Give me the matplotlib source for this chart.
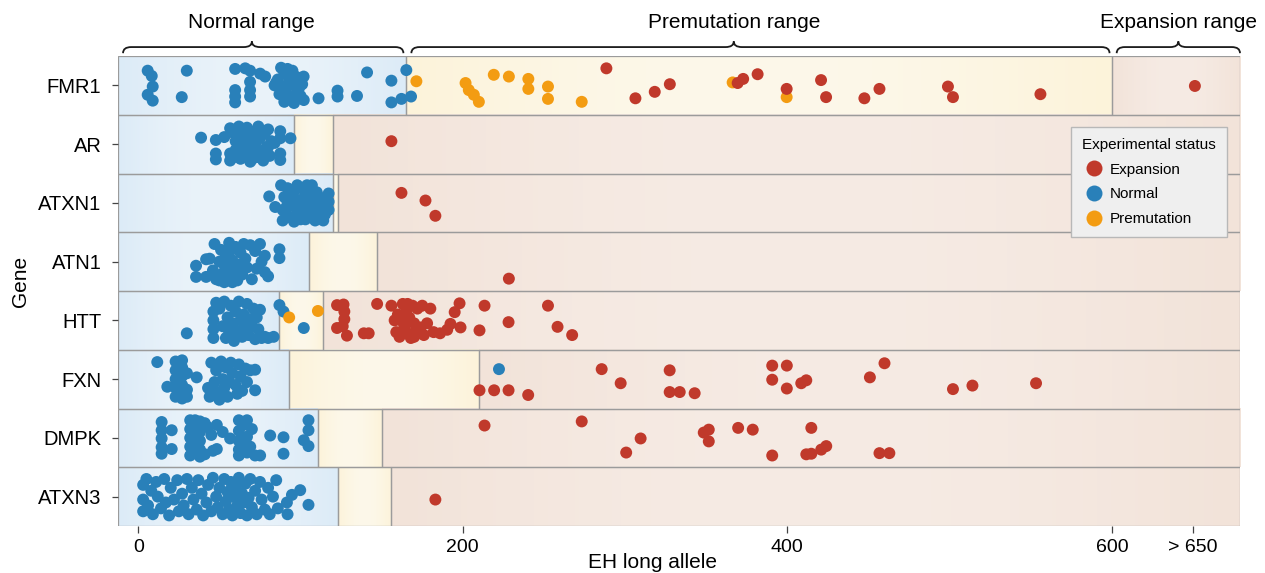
import matplotlib.pyplot as plt
import numpy as np
from matplotlib.colors import to_rgb
from matplotlib.lines import Line2D
from matplotlib.patches import PathPatch, Rectangle
from matplotlib.path import Path
from matplotlib.transforms import blended_transform_factory

plt.rcParams['font.family'] = ['Liberation Sans', 'DejaVu Sans']

GENES = ['FMR1', 'AR', 'ATXN1', 'ATN1', 'HTT', 'FXN', 'DMPK', 'ATXN3']
NORMAL_END = [165, 96, 120, 105, 87, 93, 111, 123]
PREMUT_END = [600, 120, 123, 147, 114, 210, 150, 156]
X_MIN, X_MAX = -12.5, 679
XTICKS = [0, 200, 400, 600, 650]
XTICK_LABELS = ['0', '200', '400', '600', '> 650']

# (EH long allele, vertical jitter inside the row)
FMR1_NORMAL = [(5.8, -0.25), (8.3, -0.16), (8.9, 0.02), (5.8, 0.16), (8.9, 0.26),
               (29.9, -0.25), (26.8, 0.20), (59.7, -0.28), (65.9, -0.29), (68.9, -0.25),
               (75.1, -0.20), (78.2, -0.15), (68.9, -0.06), (59.7, 0.08), (59.7, 0.19),
               (59.7, 0.29), (68.9, 0.08), (68.9, 0.19), (88, -0.3), (92, -0.28),
               (95, -0.25), (90, -0.2), (97, -0.15), (86, -0.1), (93, -0.08), (100, -0.12),
               (84, 0.0), (89, 0.02), (96, 0.0), (101, -0.02), (91, 0.1), (98, 0.12),
               (87, 0.15), (94, 0.2), (100, 0.18), (90, 0.28), (96, 0.3), (102, 0.25),
               (85, -0.05), (99, 0.05), (101.9, -0.15), (111.1, 0.22), (122.8, 0.09),
               (122.8, 0.19), (134.8, 0.18), (141, -0.22), (156, -0.08), (156, 0.29),
               (162.2, 0.23), (165.2, -0.26), (168.1, 0.19)]
FMR1_PREMUT = [(171.4, -0.07), (201.7, -0.04), (203.7, 0.08), (206.8, 0.16), (209.9, 0.28),
               (219.1, -0.18), (228.4, -0.15), (240.4, -0.11), (240.4, 0.06), (252.5, 0.02),
               (252.5, 0.23), (273.3, 0.28), (366.3, -0.05), (399.6, 0.20)]
FMR1_EXP = [(288.5, -0.29), (306.4, 0.22), (318.3, 0.11), (327.6, -0.02), (369.4, -0.04),
            (372.8, -0.11), (381.7, -0.19), (399.6, 0.06), (420.8, -0.09), (423.9, 0.20),
            (447.5, 0.22), (456.8, 0.06), (499, 0.02), (502.1, 0.20), (556, 0.15),
            (651.2, 0.01)]

AR_NORMAL = [(38.7, -0.11), (47.8, -0.07), (47.8, 0.16), (47.8, 0.26), (56.6, -0.27),
             (53, -0.12), (56.6, 0.16), (56.6, 0.28), (58, -0.2), (60, -0.05), (60, 0.1),
             (62, -0.3), (63, 0.25), (64, -0.15), (65, 0.05), (66, 0.18), (67, -0.28),
             (68, -0.08), (69, 0.3), (70, 0.1), (71, -0.2), (72, 0.0), (73, 0.22),
             (74, -0.3), (75, -0.1), (76, 0.12), (77, 0.28), (78, -0.18), (79, 0.05),
             (80, -0.25), (81, 0.2), (82, -0.05), (62, 0.0), (66, -0.02), (70, -0.12),
             (74, 0.15), (68, 0.2), (72, -0.22), (87.5, -0.22), (87.5, -0.1), (87.5, 0.16),
             (87.5, 0.27), (93.8, -0.1), (59, 0.22), (64, 0.12), (76, -0.22), (80, 0.05),
             (70, 0.26), (84, -0.02)]
AR_EXP = [(156, -0.05)]

ATXN1_NORMAL = [(80.7, -0.11), (84.4, 0.07), (88, -0.3), (89, 0.3), (90, -0.1), (91, 0.15),
                (92, -0.25), (93, 0.05), (94, 0.25), (95, -0.15), (96, 0.32), (97, 0.0),
                (98, -0.3), (99, 0.2), (100, -0.05), (101, 0.1), (102, -0.22), (103, 0.28),
                (104, 0.0), (105, -0.12), (106, 0.18), (107, -0.3), (108, 0.08), (109, 0.3),
                (110, -0.18), (111, 0.02), (112, 0.22), (113, -0.08), (114, 0.3), (92, 0.0),
                (96, -0.2), (100, 0.28), (104, -0.3), (108, -0.05), (111, 0.15),
                (117.3, -0.16), (117.3, -0.02), (117.3, 0.12), (115, 0.2), (89, 0.12),
                (98, 0.12), (106, -0.2), (113, 0.1)]
ATXN1_EXP = [(162.2, -0.17), (177, -0.04), (183.1, 0.22)]

ATN1_NORMAL = [(35.6, 0.07), (35.6, 0.26), (41.8, -0.04), (41.8, 0.26), (44, -0.05),
               (46, 0.15), (47, -0.3), (48, 0.3), (50, 0.0), (51, -0.2), (52, 0.2),
               (53, 0.35), (54, -0.1), (55, 0.08), (56, -0.32), (57, 0.25), (58, -0.02),
               (59, 0.15), (60, -0.25), (61, 0.32), (62, 0.05), (63, -0.15), (64, 0.22),
               (65, -0.3), (66, -0.05), (67, 0.1), (69, -0.28), (70, 0.3), (72, -0.18),
               (73, 0.12), (75, -0.3), (76, 0.0), (78, -0.1), (78, 0.18), (80, 0.25),
               (87, -0.21), (87, -0.06), (50, 0.32), (58, 0.35), (53, 0.05), (60, 0.1),
               (56, -0.15)]
ATN1_EXP = [(228.4, 0.29)]

HTT_NORMAL = [(29.9, 0.22), (46.3, -0.15), (46.3, 0.0), (46.3, 0.15), (46.3, 0.3),
              (48, -0.3), (50, -0.2), (52, 0.1), (53, -0.32), (54, 0.3), (55, -0.05),
              (56, 0.2), (57, -0.25), (58, 0.05), (59, 0.35), (60, -0.15), (61, 0.18),
              (62, -0.32), (63, 0.0), (64, 0.28), (65, -0.1), (66, 0.12), (67, -0.28),
              (68, 0.25), (69, -0.02), (70, 0.1), (71, -0.2), (72, 0.32), (73, -0.05),
              (74, 0.15), (75, -0.18), (76, 0.3), (78, 0.28), (80, 0.3), (83.4, 0.28),
              (87, -0.26), (89.5, -0.15), (102, 0.13)]
HTT_PREMUT = [(93, -0.05), (110.7, -0.16)]
HTT_EXP = [(122.5, -0.26), (126.5, -0.27), (127, -0.15), (127, -0.02), (126, 0.1),
           (122.5, 0.13), (128.6, 0.26), (139, 0.22), (142, 0.22), (147.2, -0.28),
           (156, -0.25), (158, 0.0), (159, 0.2), (160, -0.1), (161, 0.28), (163, -0.28),
           (164, 0.1), (165, -0.15), (166, 0.22), (167, -0.05), (168, 0.3), (169, -0.25),
           (170, 0.05), (171, 0.18), (172, -0.2), (174, 0.12), (175, -0.25), (176, 0.25),
           (178, 0.05), (180, -0.2), (182, 0.2), (162, 0.0), (166, -0.28), (170, 0.28),
           (186, 0.22), (190.4, 0.16), (192.4, 0.06), (195, -0.14), (198, -0.29),
           (198.6, 0.12), (210.3, 0.17), (213.4, -0.25), (228.2, 0.03), (252.5, -0.25),
           (258.4, 0.11), (267.4, 0.25)]

FXN_NORMAL = [(11.7, -0.29), (17.9, 0.13), (23, -0.3), (23, -0.15), (23, 0.0), (23, 0.15),
              (23, 0.3), (27, -0.32), (27, -0.2), (27, -0.05), (27, 0.1), (27, 0.25),
              (27, 0.33), (30, 0.18), (30, 0.3), (30, -0.1), (36, -0.03), (43, 0.15),
              (44, 0.3), (45, -0.28), (47, 0.05), (48, -0.15), (49, 0.22), (50, 0.35),
              (51, -0.3), (52, 0.0), (53, 0.15), (54, -0.2), (55, 0.3), (56, 0.05),
              (57, -0.28), (58, -0.1), (60, 0.1), (61, 0.25), (62, -0.25), (63, -0.05),
              (64, 0.2), (66, -0.18), (67, 0.05), (69, -0.15), (72, 0.19), (72, -0.16),
              (222.3, -0.17)]
FXN_EXP = [(210.3, 0.19), (219.3, 0.19), (228.2, 0.19), (240.3, 0.27), (285.6, -0.17),
           (297.3, 0.07), (327.5, -0.15), (327.5, 0.22), (333.7, 0.22), (342.9, 0.24),
           (390.7, -0.23), (399.7, -0.23), (390.7, 0.01), (399.7, 0.16), (408.6, 0.07),
           (411.7, 0.02), (450.9, -0.03), (459.9, -0.27), (502.1, 0.17), (514.1, 0.11),
           (553.3, 0.07)]

DMPK_NORMAL = [(14.4, -0.27), (14.4, -0.13), (14.4, 0.01), (14.4, 0.16), (14.4, 0.27),
               (20.6, -0.13), (20.6, 0.19), (32, -0.3), (32, -0.15), (32, 0.0), (32, 0.15),
               (32, 0.3), (35, -0.3), (35, -0.2), (35, -0.05), (35, 0.1), (35, 0.25),
               (38, -0.28), (38, -0.1), (38, 0.05), (38, 0.2), (38, 0.32), (41, -0.25),
               (41, 0.28), (43, -0.18), (45, -0.05), (46, 0.22), (48.4, -0.22), (48.4, 0.19),
               (52, -0.1), (56.6, 0.01), (62, -0.3), (62, -0.12), (62, 0.05), (62, 0.2),
               (62, 0.3), (65, -0.22), (65, 0.1), (67, -0.3), (67, -0.02), (67, 0.25),
               (69, 0.15), (70, -0.15), (72, 0.3), (75.1, 0.3), (81.3, -0.04), (89.5, -0.01),
               (89.5, 0.27), (104.9, -0.3), (104.9, -0.13), (102, 0.04), (104.9, 0.14)]
DMPK_EXP = [(213.4, -0.21), (273.3, -0.28), (309.6, 0.01), (300.7, 0.25), (348.5, -0.09),
            (351.6, -0.14), (351.6, 0.06), (369.7, -0.17), (378.7, -0.14), (390.7, 0.30),
            (414.8, -0.17), (411.7, 0.28), (414.8, 0.27), (420.9, 0.20), (424, 0.14),
            (456.8, 0.26), (462.9, 0.26)]

ATXN3_NORMAL = [(3, -0.2), (3, 0.05), (3, 0.25), (5, -0.3), (6, 0.15), (8, -0.1), (9, 0.3),
                (11, -0.25), (12, 0.0), (14, 0.2), (16, -0.3), (17, 0.1), (19, 0.32),
                (20, -0.15), (22, 0.05), (24, -0.28), (25, 0.25), (27, -0.05), (28, 0.15),
                (30, -0.3), (31, 0.3), (33, -0.15), (34, 0.05), (36, 0.22), (37, -0.28),
                (39, -0.05), (40, 0.32), (42, 0.1), (43, -0.2), (45, 0.25), (46, -0.32),
                (48, 0.0), (49, 0.18), (50, -0.15), (52, 0.3), (53, -0.3), (54, 0.08),
                (55, -0.08), (56, 0.22), (57, -0.25), (58, 0.32), (59, 0.0), (60, -0.18),
                (61, 0.15), (62, -0.32), (63, 0.28), (64, -0.05), (65, 0.1), (66, -0.22),
                (67, 0.32), (68, 0.02), (69, -0.3), (70, 0.18), (72, -0.1), (73, 0.3),
                (75, -0.25), (76, 0.05), (78, 0.22), (80, -0.15), (81, 0.3), (83, 0.0),
                (85, -0.28), (86, 0.2), (91.6, 0.1), (94.7, -0.03), (99.8, -0.11),
                (92, 0.3), (104.9, 0.14)]
ATXN3_EXP = [(183.1, 0.05)]

STATUS_COLORS = {'Expansion': '#c0392b', 'Normal': '#2980b9', 'Premutation': '#f39c12'}

POINTS = {
    'FMR1': {'Normal': FMR1_NORMAL, 'Premutation': FMR1_PREMUT, 'Expansion': FMR1_EXP},
    'AR': {'Normal': AR_NORMAL, 'Expansion': AR_EXP},
    'ATXN1': {'Normal': ATXN1_NORMAL, 'Expansion': ATXN1_EXP},
    'ATN1': {'Normal': ATN1_NORMAL, 'Expansion': ATN1_EXP},
    'HTT': {'Normal': HTT_NORMAL, 'Premutation': HTT_PREMUT, 'Expansion': HTT_EXP},
    'FXN': {'Normal': FXN_NORMAL, 'Expansion': FXN_EXP},
    'DMPK': {'Normal': DMPK_NORMAL, 'Expansion': DMPK_EXP},
    'ATXN3': {'Normal': ATXN3_NORMAL, 'Expansion': ATXN3_EXP},
}


def gradient(edge, center, n=200):
  # soft band, a little paler in the middle of each range box
  e = np.array(to_rgb(edge))
  c = np.array(to_rgb(center))
  w = np.sin(np.linspace(0, np.pi, n))[:, None]
  return (e + (c - e) * w)[None, :, :]


def shade(ax, x0, x1, row, edge, center):
  ax.imshow(gradient(edge, center), extent=(x0, x1, row + 0.5, row - 0.5),
            aspect='auto', interpolation='bilinear', zorder=0)
  ax.add_patch(Rectangle((x0, row - 0.5), x1 - x0, 1, fill=False,
                         edgecolor='#9b9b9b', lw=0.9, zorder=1))


def bracket(ax, x0, x1, xt, label):
  trans = blended_transform_factory(ax.transData, ax.transAxes)
  yb, yl, yt, r = 1.006, 1.019, 1.031, 5
  verts = [(x0, yb), (x0, yl), (x0 + r, yl), (xt - r, yl), (xt, yl), (xt, yt),
           (xt, yl), (xt + r, yl), (x1 - r, yl), (x1, yl), (x1, yb)]
  codes = [Path.MOVETO, Path.CURVE3, Path.CURVE3, Path.LINETO, Path.CURVE3, Path.CURVE3,
           Path.CURVE3, Path.CURVE3, Path.LINETO, Path.CURVE3, Path.CURVE3]
  ax.add_patch(PathPatch(Path(verts, codes), fill=False, lw=1.3, edgecolor='#1a1a1a',
                         transform=trans, clip_on=False))
  ax.text(xt, 1.072, label, transform=trans, ha='center', va='center', fontsize=15)


fig = plt.figure(figsize=(12.65, 5.73), dpi=100)
ax = fig.add_axes([118 / 1265, 47 / 573, 1122 / 1265, 470 / 573])

for i, gene in enumerate(GENES):
  shade(ax, X_MIN, NORMAL_END[i], i, '#dcebf7', '#eaf3fa')
  shade(ax, NORMAL_END[i], PREMUT_END[i], i, '#fcf3da', '#fdf8ea')
  shade(ax, PREMUT_END[i], X_MAX, i, '#f2e3d9', '#f6ebe4')
  for status in ['Normal', 'Premutation', 'Expansion']:
    pts = POINTS[gene].get(status)
    if not pts:
      continue
    xs = [p[0] for p in pts]
    ys = [i + p[1] for p in pts]
    ax.scatter(xs, ys, s=74, color=STATUS_COLORS[status], edgecolors='none', zorder=3)

ax.set_xlim(X_MIN, X_MAX)
ax.set_ylim(len(GENES) - 0.5, -0.5)
for s in ax.spines.values():
  s.set_visible(False)

ax.set_yticks(range(len(GENES)))
ax.set_yticklabels(GENES, fontsize=14.5)
ax.set_xticks(XTICKS)
ax.set_xticklabels(XTICK_LABELS, fontsize=14)
ax.tick_params(axis='y', length=4, width=0.9, color='#444444', pad=8)
ax.tick_params(axis='x', length=5, width=0.9, color='#444444', pad=4)

ax.set_xlabel('EH long allele', fontsize=15)
ax.xaxis.set_label_coords(0.476, -0.058)
ax.set_ylabel('Gene', fontsize=15)
ax.yaxis.set_label_coords(-0.078, 0.52)

bracket(ax, -9.4, 163.4, 70, 'Normal range')
bracket(ax, 168.3, 598.6, 367, 'Premutation range')
bracket(ax, 603, 679, 641, 'Expansion range')

handles = [Line2D([], [], marker='o', ls='none', markersize=11.5,
                  markerfacecolor=STATUS_COLORS[k], markeredgecolor='none', label=k)
           for k in ['Expansion', 'Normal', 'Premutation']]
leg = ax.legend(handles=handles, title='Experimental status', loc='upper right',
                bbox_to_anchor=(0.988, 0.849), borderaxespad=0, fontsize=11,
                title_fontsize=11, frameon=True, fancybox=False, labelspacing=0.7,
                handletextpad=0.2, handlelength=1.6, borderpad=0.7)
leg.get_frame().set_facecolor('#efefef')
leg.get_frame().set_edgecolor('#b8b8b8')
leg.get_frame().set_alpha(1)
leg._legend_box.align = 'left'
leg._legend_box.sep = 8
leg.set_zorder(5)

fig.savefig('out.png', dpi=100)
